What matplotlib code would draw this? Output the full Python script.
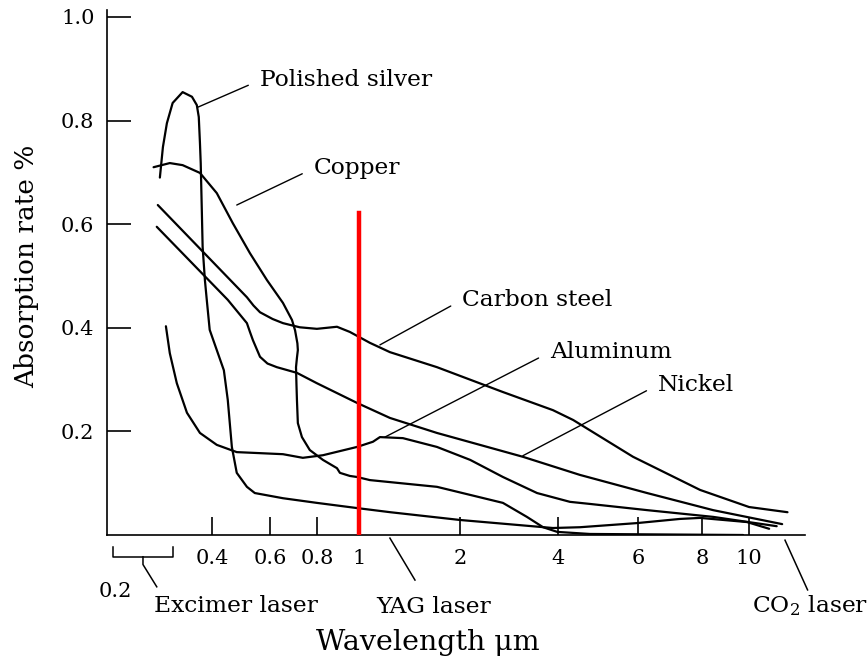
import numpy as np
import matplotlib
matplotlib.use("Agg")
import matplotlib.pyplot as plt
from matplotlib.ticker import NullLocator, FixedLocator, FixedFormatter

plt.rcParams['font.family'] = ['DejaVu Serif']
plt.rcParams['mathtext.fontset'] = 'dejavuserif'

# ---------------- data (wavelength in um, absorption rate) ----------------
silver_wl = [0.278, 0.284, 0.292, 0.304, 0.326, 0.348, 0.360, 0.365, 0.368, 0.370, 0.373, 0.375,
             0.381, 0.386, 0.394, 0.414, 0.435, 0.447, 0.460, 0.476, 0.511, 0.540, 0.650, 0.80,
             0.99, 1.24, 2.0, 3.86, 4.47, 5.97, 7.24, 7.93, 9.9, 11.0]
silver_abs = [0.690, 0.749, 0.795, 0.834, 0.855, 0.846, 0.830, 0.807, 0.757, 0.718, 0.622, 0.556,
              0.492, 0.454, 0.396, 0.357, 0.318, 0.261, 0.170, 0.120, 0.093, 0.081, 0.071, 0.062,
              0.052, 0.044, 0.029, 0.0135, 0.015, 0.023, 0.031, 0.033, 0.025, 0.012]

copper_wl = [0.266, 0.298, 0.326, 0.368, 0.414, 0.463, 0.522, 0.588, 0.650, 0.687, 0.700, 0.710,
             0.712, 0.708, 0.704, 0.706, 0.708, 0.712, 0.730, 0.766, 0.826, 0.890, 0.904, 0.953,
             0.990, 1.078, 1.708, 2.71, 3.21, 3.60, 3.98, 4.70, 9.72]
copper_abs = [0.710, 0.718, 0.714, 0.699, 0.660, 0.602, 0.544, 0.492, 0.448, 0.415, 0.395, 0.370,
              0.357, 0.342, 0.324, 0.290, 0.261, 0.216, 0.189, 0.164, 0.145, 0.129, 0.120, 0.114,
              0.112, 0.106, 0.093, 0.062, 0.035, 0.015, 0.006, 0.002, 0.0]

steel_wl = [0.274, 0.511, 0.535, 0.560, 0.610, 0.650, 0.72, 0.80, 0.890, 0.953, 1.078, 1.237, 1.708,
            2.71, 3.86, 4.32, 5.85, 7.93, 10.0, 12.0]
steel_abs = [0.637, 0.459, 0.443, 0.430, 0.417, 0.409, 0.401, 0.398, 0.402, 0.392, 0.371, 0.353,
             0.324, 0.276, 0.241, 0.222, 0.151, 0.087, 0.054, 0.044]

nickel_wl = [0.272, 0.447, 0.511, 0.522, 0.533, 0.560, 0.590, 0.626, 0.708, 0.80, 0.990, 1.237,
             1.708, 3.12, 4.47, 6.25, 8.43, 11.7]
nickel_abs = [0.595, 0.454, 0.409, 0.392, 0.376, 0.344, 0.331, 0.324, 0.313, 0.293, 0.255, 0.226,
              0.197, 0.151, 0.116, 0.081, 0.048, 0.021]

alu_wl = [0.290, 0.298, 0.313, 0.336, 0.368, 0.414, 0.476, 0.560, 0.650, 0.734, 0.826, 0.990, 1.101,
          1.155, 1.352, 1.708, 2.15, 2.71, 3.45, 4.25, 4.70, 6.25, 8.43, 11.4]
alu_abs = [0.403, 0.351, 0.293, 0.236, 0.197, 0.174, 0.160, 0.158, 0.156, 0.149, 0.154, 0.170, 0.180,
           0.189, 0.187, 0.170, 0.145, 0.112, 0.081, 0.064, 0.060, 0.048, 0.035, 0.017]

yag_wl = 1.0
yag_top = 0.622

x_ticks = [0.4, 0.6, 0.8, 1, 2, 4, 6, 8, 10]
x_ticklabels = ["0.4", "0.6", "0.8", "1", "2", "4", "6", "8", "10"]
y_ticks = [0.2, 0.4, 0.6, 0.8, 1.0]
y_ticklabels = ["0.2", "0.4", "0.6", "0.8", "1.0"]

labels = ["Polished silver", "Copper", "Carbon steel", "Aluminum", "Nickel"]
label_pts = [(0.363, 0.826), (0.476, 0.637), (1.155, 0.367), (1.195, 0.189), (3.12, 0.153)]
label_txt = [(0.560, 0.878), (0.785, 0.708), (2.03, 0.454), (3.78, 0.353), (6.56, 0.290)]

# ---------------- hand-drawn wavelength axis scale ----------------
scale_vals = np.log10([0.15, 0.2, 0.4, 0.6, 0.8, 1, 2, 4, 6, 8, 10, 20])
scale_pos = np.array([72, 113, 212, 270, 317, 359, 460, 558, 638, 702, 749, 895], dtype=float)


def fwd(x):
    lx = np.log10(np.clip(np.asarray(x, dtype=float), 1e-6, None))
    return np.interp(lx, scale_vals, scale_pos)


def inv(p):
    return 10 ** np.interp(np.asarray(p, dtype=float), scale_pos, scale_vals)


fig = plt.figure(figsize=(8.68, 6.62), dpi=100)
ax = fig.add_axes([107 / 868, 1 - 535 / 662, (805 - 107) / 868, 525 / 662])
ax.set_xscale('function', functions=(fwd, inv))
ax.set_xlim(0.192, 13.04)
ax.set_ylim(0, 1.0135)

lw = 1.6
for wl, ab in [(silver_wl, silver_abs), (copper_wl, copper_abs), (steel_wl, steel_abs),
               (nickel_wl, nickel_abs), (alu_wl, alu_abs)]:
    ax.plot(wl, ab, color='black', lw=lw, solid_joinstyle='round', solid_capstyle='round')

ax.plot([yag_wl, yag_wl], [0, yag_top], color='#ff0000', lw=3.2, zorder=5)

afs = 16.8
for lab, pt, tp in zip(labels, label_pts, label_txt):
    ax.annotate(lab, xy=pt, xytext=tp, ha='left', va='center', fontsize=afs,
                arrowprops=dict(arrowstyle='-', lw=1.0, color='black', shrinkA=7, shrinkB=0,
                                relpos=(0, 0.5)))

for s in ['top', 'right']:
    ax.spines[s].set_visible(False)
for s in ['left', 'bottom']:
    ax.spines[s].set_linewidth(1.2)

ax.xaxis.set_major_locator(FixedLocator(x_ticks))
ax.xaxis.set_major_formatter(FixedFormatter(x_ticklabels))
ax.xaxis.set_minor_locator(NullLocator())
ax.set_yticks(y_ticks)
ax.set_yticklabels(y_ticklabels)
ax.tick_params(axis='y', direction='in', length=17, width=1.2, pad=9, labelsize=15)
ax.tick_params(axis='x', direction='in', length=13, width=1.2, pad=10, labelsize=15)

# lower annotations (laser ranges)
kw = dict(color='black', lw=1.1, clip_on=False)
ax.plot([0.2, 0.2, 0.304, 0.304], [-0.023, -0.042, -0.042, -0.023], **kw)
ax.plot([0.247, 0.247, 0.272], [-0.042, -0.057, -0.100], **kw)
ax.plot([1.237, 1.469], [-0.006, -0.087], **kw)
ax.plot([11.86, 13.2], [-0.010, -0.106], **kw)
ax.text(0.203, -0.110, "0.2", ha='center', va='center', fontsize=15)
ax.text(0.266, -0.137, "Excimer laser", ha='left', va='center', fontsize=afs)
ax.text(1.124, -0.139, "YAG laser", ha='left', va='center', fontsize=afs)
ax.text(10.15, -0.137, "CO$_2$ laser", ha='left', va='center', fontsize=afs)

fig.text(27 / 868, 1 - 266 / 662, "Absorption rate %", rotation=90, ha='center', va='center',
         fontsize=19)
fig.text(428 / 868, 1 - 642 / 662, "Wavelength μm", ha='center', va='center', fontsize=20.5)

fig.savefig("out.png", dpi=100)
